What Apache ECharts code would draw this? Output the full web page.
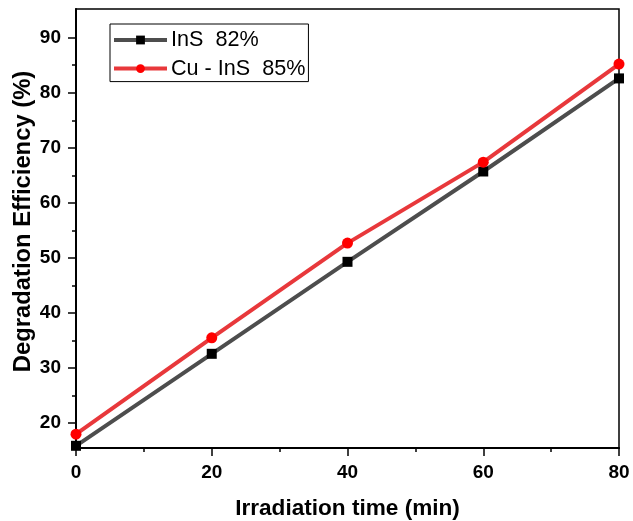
<!DOCTYPE html>
<html>
<head>
<meta charset="utf-8">
<script src="https://cdn.jsdelivr.net/npm/echarts@6/dist/echarts.min.js"></script>
<style>html,body{margin:0;padding:0;background:#fff;}#c{width:633px;height:521px;}</style>
</head>
<body>
<div id="c"></div>
<script>
const times = [0, 20, 40, 60, 80];
const insValues = [15.9, 32.6, 49.3, 65.7, 82.6];
const cuInsValues = [18.0, 35.5, 52.7, 67.4, 85.2];
const seriesNames = ['InS  82%', 'Cu - InS  85%'];
const yMajorTicks = [20, 30, 40, 50, 60, 70, 80, 90];
const yMinorTicks = [25, 35, 45, 55, 65, 75, 85];
const xAxisTitle = 'Irradiation time (min)';
const yAxisTitle = 'Degradation Efficiency (%)';

const FONT = '"Liberation Sans", Arial, sans-serif';
const chart = echarts.init(document.getElementById('c'), null, {renderer: 'canvas'});
const yMin = 15.5, yMax = 95.2;
chart.setOption({
  animation: false,
  backgroundColor: '#fff',
  grid: {left: 76, right: 14, top: 9, bottom: 73, show: true, borderColor: '#000', borderWidth: 1.5,
         outerBoundsMode: 'none', containLabel: false},
  legend: {
    left: 110, top: 24, orient: 'vertical',
    borderColor: '#000', borderWidth: 1, borderRadius: 0,
    padding: [4, 3, 1, 2],
    itemWidth: 53, itemHeight: 11, itemGap: 4.6,
    lineStyle: {width: 4},
    textStyle: {fontFamily: FONT, fontSize: 21.6, color: '#000', lineHeight: 24, padding: [0, 0, 0, -1]},
    data: seriesNames
  },
  xAxis: {
    type: 'value', min: 0, max: 80, interval: 20,
    name: xAxisTitle, nameLocation: 'middle', nameGap: 49, nameMoveOverlap: false,
    nameTextStyle: {fontFamily: FONT, fontSize: 22.6, fontWeight: 'bold', color: '#000'},
    axisLine: {show: true, onZero: false, lineStyle: {color: '#000', width: 2}},
    axisTick: {show: true, length: 8, lineStyle: {color: '#000', width: 1.5}},
    minorTick: {show: true, splitNumber: 2, length: 4, lineStyle: {color: '#000', width: 1.5}},
    axisLabel: {fontFamily: FONT, fontSize: 19, fontWeight: 'bold', color: '#000', margin: 15},
    splitLine: {show: false}
  },
  yAxis: [{
    type: 'value', min: yMin, max: yMax,
    name: yAxisTitle, nameLocation: 'middle', nameGap: 41, nameMoveOverlap: false,
    nameTextStyle: {fontFamily: FONT, fontSize: 23.8, fontWeight: 'bold', color: '#000', padding: [0, 0, 0, 14]},
    axisLine: {show: true, onZero: false, lineStyle: {color: '#000', width: 2}},
    axisTick: {show: true, length: 8, customValues: yMajorTicks, lineStyle: {color: '#000', width: 1.5}},
    axisLabel: {fontFamily: FONT, fontSize: 19, fontWeight: 'bold', color: '#000', margin: 15, customValues: yMajorTicks},
    splitLine: {show: false}
  }, {
    type: 'value', min: yMin, max: yMax, position: 'left',
    axisLine: {show: false},
    axisTick: {show: true, length: 4, customValues: yMinorTicks, lineStyle: {color: '#000', width: 1.5}},
    axisLabel: {show: false},
    splitLine: {show: false}
  }],
  series: [{
    name: seriesNames[0], type: 'line', yAxisIndex: 0,
    data: times.map((t, i) => [t, insValues[i]]),
    symbol: 'rect', symbolSize: 10,
    itemStyle: {color: '#000'},
    lineStyle: {color: '#4d4d4d', width: 4},
    z: 2
  }, {
    name: seriesNames[1], type: 'line', yAxisIndex: 0,
    data: times.map((t, i) => [t, cuInsValues[i]]),
    symbol: 'circle', symbolSize: 11,
    itemStyle: {color: '#ff0000'},
    lineStyle: {color: '#e8383b', width: 4},
    z: 3
  }]
});
</script>
</body>
</html>
